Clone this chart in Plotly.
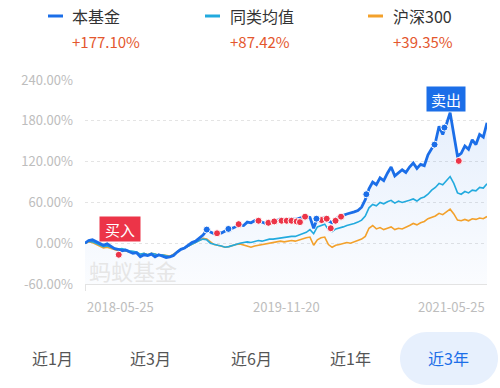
import pandas as pd
import plotly.graph_objects as go

# ---------------- data ----------------
start_date = "2018-05-25"
end_date = "2021-05-25"

fund = [
    0, 4, 5, 2, -1, -3, -1, -4, -8, -9,
    -11, -10, -13, -15, -14, -20, -17, -18, -16, -20,
    -17, -19, -21, -20, -18, -13, -9, -7, -3, 1,
    3, 8, 12, 19, 17, 14, 16, 15, 18, 21,
    22, 25, 27, 26, 31, 30, 33, 33, 31, 29,
    32, 31, 33, 36, 34, 35, 36, 35, 37, 38,
    39, 38, 22, 37, 36, 38, 33, 30, 36, 39,
    41, 43, 44, 46, 48, 53, 64, 80, 90, 86,
    96, 92, 103, 112, 99, 103, 108, 104, 112, 118,
    110, 116, 114, 130, 140, 148, 172, 160, 175, 192,
    160, 128, 132, 143, 138, 152, 145, 160, 156, 177.1,
]
peer = [
    0, 3, 2, 0, -3, -5, -4, -6, -8, -9,
    -8, -10, -11, -12, -13, -16, -15, -17, -15, -16,
    -18, -17, -19, -20, -17, -13, -9, -7, -4, -1,
    1, 4, 6, 5, 0, -2, -3, -4, -6, -5,
    -3, -1, 0, 1, 2, 1, 3, 4, 3, 5,
    6, 6, 7, 8, 8, 9, 10, 10, 12, 14,
    16, 20, 14, 24, 26, 28, 20, 17, 21, 22,
    24, 26, 27, 29, 31, 34, 40, 52, 57, 55,
    60, 58, 61, 63, 59, 62, 60, 61, 63, 65,
    62, 66, 68, 72, 78, 82, 88, 86, 92, 98,
    88, 74, 72, 76, 74, 78, 77, 82, 81, 87.42,
]
hs300 = [
    0, 2, 1, -2, -5, -7, -6, -8, -10, -11,
    -10, -12, -13, -13, -14, -17, -15, -17, -15, -16,
    -18, -17, -18, -19, -16, -12, -9, -7, -4, -1,
    1, 5, 7, 6, 2, -2, -3, -4, -6, -5,
    -3, -2, -1, -3, -5, -6, -4, -3, -1, 0,
    1, 1, 2, 3, 2, 3, 4, 3, 5, 6,
    8, 9, -3, 5, 8, 9, -2, -6, -3, -2,
    -1, 1, 0, 2, 4, 6, 10, 22, 26, 21,
    23, 20, 22, 24, 20, 22, 21, 23, 26, 29,
    27, 30, 32, 36, 38, 40, 44, 42, 46, 50,
    43, 34, 33, 35, 33, 36, 35, 37, 36, 39.35,
]
dates = pd.date_range(start_date, end_date, periods=len(fund))

buy_dates = ["2018-08-25", "2019-05-20", "2019-07-18", "2019-09-10", "2019-10-07",
             "2019-10-23", "2019-11-12", "2019-11-26", "2019-12-09", "2019-12-23",
             "2020-01-01", "2020-01-15", "2020-02-29", "2020-03-14", "2020-03-25",
             "2020-04-07", "2020-04-22", "2021-03-09"]
buy_values = [-17, 14.6, 28, 33, 30, 32, 33, 33, 33, 32, 31, 39, 34, 36, 22, 33, 39, 121]
sell_dates = ["2019-04-22", "2019-06-20", "2020-02-15", "2020-06-30", "2021-01-02", "2021-01-29"]
sell_values = [20, 21, 36, 72, 145, 170]
sell_label_date = "2021-02-14"
sell_label_value = 192

series_names = ["本基金", "同类均值", "沪深300"]
series_returns = ["+177.10%", "+87.42%", "+39.35%"]
y_ticks = [-60, 0, 60, 120, 180, 240]
x_labels = ["2018-05-25", "2019-11-20", "2021-05-25"]
period_labels = ["近1月", "近3月", "近6月", "近1年", "近3年"]
selected_period = 4

# ---------------- style ----------------
FONT = "Noto Sans CJK SC, Roboto, sans-serif"
C_FUND = "#1b6ee8"
C_PEER = "#22aade"
C_HS = "#f3a12b"
C_BUY = "#ec3448"
C_RET = "#e4572e"
W, H = 500, 388
L, R, T, B = 85, 13, 80, 104
PW, PH = W - L - R, H - T - B


def px(x):
    return (x - L) / PW


def py(y):
    return (H - B - y) / PH


fig = go.Figure()
ymin, ymax = y_ticks[0], y_ticks[-1]

# gradient area under fund line
fig.add_trace(go.Scatter(x=dates, y=[ymin] * len(fund), mode="lines",
                         line=dict(width=0), hoverinfo="skip", showlegend=False))
fig.add_trace(go.Scatter(x=dates, y=fund, mode="lines", line=dict(width=0),
                         fill="tonexty",
                         fillgradient=dict(type="vertical",
                                           colorscale=[[0, "rgba(27,110,232,0.02)"],
                                                       [1, "rgba(27,110,232,0.11)"]]),
                         hoverinfo="skip", showlegend=False))
fig.add_trace(go.Scatter(x=dates, y=hs300, mode="lines",
                         line=dict(color=C_HS, width=1.6), showlegend=False))
fig.add_trace(go.Scatter(x=dates, y=peer, mode="lines",
                         line=dict(color=C_PEER, width=1.6), showlegend=False))
fig.add_trace(go.Scatter(x=dates, y=fund, mode="lines",
                         line=dict(color=C_FUND, width=2.8), showlegend=False))
fig.add_trace(go.Scatter(x=buy_dates, y=buy_values, mode="markers",
                         marker=dict(color=C_BUY, size=7, line=dict(color="white", width=1)),
                         showlegend=False))
fig.add_trace(go.Scatter(x=sell_dates, y=sell_values, mode="markers",
                         marker=dict(color=C_FUND, size=7, line=dict(color="white", width=1)),
                         showlegend=False))

shapes = []
annotations = []

# legend (custom)
legend_line_x = [48, 205, 368]
legend_text_x = [70, 228, 391]
colors = [C_FUND, C_PEER, C_HS]
for i in range(3):
    shapes.append(dict(type="line", xref="paper", yref="paper",
                       x0=px(legend_line_x[i]), x1=px(legend_line_x[i] + 15),
                       y0=py(16), y1=py(16), line=dict(color=colors[i], width=3)))
    annotations.append(dict(xref="paper", yref="paper", x=px(legend_text_x[i]), y=py(16),
                            xanchor="left", yanchor="middle", showarrow=False,
                            text=series_names[i], font=dict(family=FONT, size=16, color="#333333")))
    annotations.append(dict(xref="paper", yref="paper", x=px(legend_text_x[i]), y=py(41),
                            xanchor="left", yanchor="middle", showarrow=False,
                            text=series_returns[i], font=dict(family=FONT, size=15, color=C_RET)))

# x labels
anchors = ["left", "center", "right"]
xpos = [0, 0.5, 1]
for i, lab in enumerate(x_labels):
    annotations.append(dict(xref="paper", yref="paper", x=xpos[i], y=py(306),
                            xanchor=anchors[i], yanchor="middle", showarrow=False,
                            text=lab, font=dict(family=FONT, size=13, color="#bdbdbd")))

# watermark
annotations.append(dict(xref="paper", yref="paper", x=px(87), y=py(270),
                        xanchor="left", yanchor="middle", showarrow=False,
                        text="蚂蚁基金", font=dict(family=FONT, size=22, color="#e6e6e6")))

# buy / sell labels
annotations.append(dict(x=buy_dates[0], y=buy_values[0], xref="x", yref="y",
                        showarrow=False, yanchor="bottom", yshift=13, xshift=1,
                        text="买入", width=40, height=24, bgcolor=C_BUY, borderpad=0,
                        font=dict(family=FONT, size=15, color="white")))
annotations.append(dict(x=sell_label_date, y=sell_label_value, xref="x", yref="y",
                        showarrow=False, yanchor="bottom", yshift=1, xshift=-4,
                        text="卖出", width=38, height=24, bgcolor=C_FUND, borderpad=0,
                        font=dict(family=FONT, size=15, color="white")))

# period buttons
btn_x = [52, 150, 251, 350, 448]
k = 0.5523 * 26.5
x0, x1, y0, y1, r = 400, 498, 332, 385, 26.5
cy = (y0 + y1) / 2
pts = [
    ("M", [(x1 - r, y0)]),
    ("L", [(x0 + r, y0)]),
    ("C", [(x0 + r - k, y0), (x0, cy - k), (x0, cy)]),
    ("C", [(x0, cy + k), (x0 + r - k, y1), (x0 + r, y1)]),
    ("L", [(x1 - r, y1)]),
    ("C", [(x1 - r + k, y1), (x1, cy + k), (x1, cy)]),
    ("C", [(x1, cy - k), (x1 - r + k, y0), (x1 - r, y0)]),
]
path = " ".join(cmd + " " + " ".join(f"{px(a):.5f},{py(b):.5f}" for a, b in p) for cmd, p in pts) + " Z"
shapes.append(dict(type="path", xref="paper", yref="paper", path=path,
                   fillcolor="#e7f0fd", line=dict(width=0), layer="below"))
for i, lab in enumerate(period_labels):
    annotations.append(dict(xref="paper", yref="paper", x=px(btn_x[i]), y=py(358),
                            xanchor="center", yanchor="middle", showarrow=False, text=lab,
                            font=dict(family=FONT, size=16,
                                      color=C_FUND if i == selected_period else "#555555")))

fig.update_layout(
    width=W, height=H,
    margin=dict(l=L, r=R, t=T, b=B),
    paper_bgcolor="white", plot_bgcolor="white",
    shapes=shapes, annotations=annotations,
    showlegend=False,
    xaxis=dict(type="date", range=[start_date, end_date], showgrid=False, zeroline=False,
               showline=True, linecolor="#e3e3e3", linewidth=1,
               tickvals=[start_date], ticks="outside", ticklen=6, tickcolor="#e3e3e3",
               showticklabels=False),
    yaxis=dict(range=[ymin, ymax], tickvals=y_ticks,
               ticktext=[f"{v:.2f}%" for v in y_ticks],
               showgrid=True, gridcolor="#e4e4e4", griddash="dot", gridwidth=1,
               zeroline=False, showline=False, ticks="", ticklabelstandoff=11,
               tickfont=dict(family=FONT, size=13, color="#bdbdbd")),
)

fig.write_html("out.html", config={"displayModeBar": False},
               post_script="document.body.style.margin='0';document.body.style.overflow='hidden';")
